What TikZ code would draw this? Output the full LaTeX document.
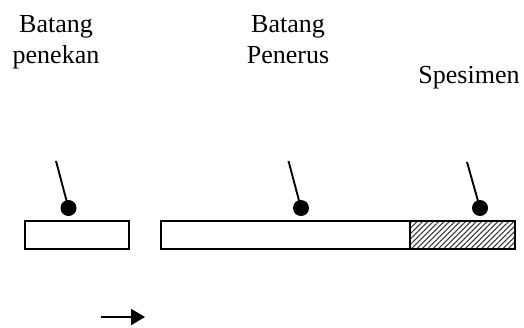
\documentclass[tikz,border=0pt]{standalone}
\usepackage{fontspec}
\setmainfont{Liberation Serif}
\usetikzlibrary{arrows.meta,patterns.meta}
\begin{document}
\begin{tikzpicture}[x=0.5pt,y=-0.5pt,
  lbl/.style={font=\fontsize{13}{15.5}\selectfont,align=center,inner sep=0pt,anchor=base},
  bar/.style={draw=black,line width=0.85pt,fill=white,minimum height=14pt,inner sep=0pt,outer sep=0pt},
  dot/.style={circle,fill=black,minimum size=8pt,inner sep=0pt},
  pointer/.style={line width=0.95pt},
  hatch/.style={pattern={Lines[angle=45,distance=1.9pt,line width=0.5pt]},pattern color=black!80}
]
\useasboundingbox (0,0) rectangle (524,327);
% labels
\node[lbl] (tpen) at (56,63) {Batang\\penekan};
\node[lbl] (tner) at (288,63) {Batang\\Penerus};
\node[lbl] (tspe) at (469,83) {Spesimen};
% bars
\node[bar,minimum width=52pt] (bpen) at (77,235) {};
\node[bar,minimum width=124.5pt] (bner) at (285.5,235) {};
\node[bar,hatch,minimum width=52.5pt] (bspe) at (462.5,235) {};
% dots and pointers
\node[dot] (dpen) at (68.5,208) {};
\node[dot] (dner) at (301,208) {};
\node[dot] (dspe) at (480,208) {};
\coordinate (cpen) at (56,161);
\coordinate (cner) at (288.5,161);
\coordinate (cspe) at (467,162);
\draw[pointer] (cpen) -- (dpen.center);
\draw[pointer] (cner) -- (dner.center);
\draw[pointer] (cspe) -- (dspe.center);
% arrow
\coordinate (astart) at (100.5,317);
\coordinate (aend) at (145,317);
\draw[line width=1.1pt,-{Triangle[length=7pt,width=8pt]}] (astart) -- (aend);
\end{tikzpicture}
\end{document}
